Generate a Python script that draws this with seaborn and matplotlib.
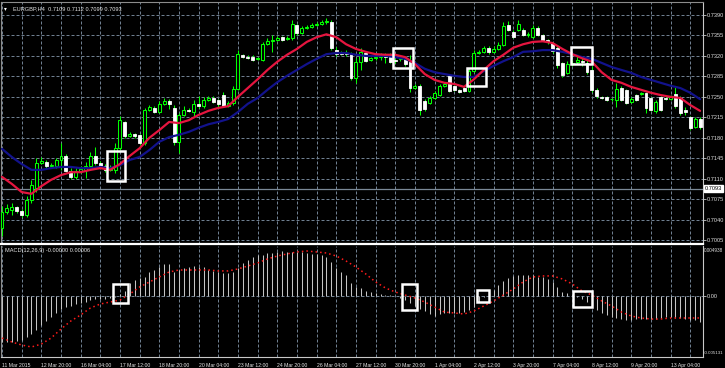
import numpy as np
import seaborn as sns
import matplotlib.pyplot as plt
from matplotlib.patches import Rectangle
from matplotlib.transforms import blended_transform_factory

# EURGBP H4 candles, bar 0 = 11 Mar 2015
open_ = [0.7025, 0.7053, 0.7056, 0.7061, 0.7055, 0.7048, 0.7073, 0.7094, 0.7137, 0.7138,
         0.7132, 0.7132, 0.7142, 0.7149, 0.7123, 0.7113, 0.7123, 0.7125, 0.7132, 0.7149,
         0.7137, 0.7132, 0.7125, 0.7125, 0.7162, 0.7207, 0.7183, 0.7186, 0.7185, 0.7171,
         0.7227, 0.7231, 0.7224, 0.7238, 0.7243, 0.7231, 0.7173, 0.7219, 0.7227, 0.7224,
         0.7238, 0.7234, 0.7245, 0.7248, 0.7245, 0.7253, 0.7234, 0.7239, 0.7263, 0.7322,
         0.7318, 0.7318, 0.7315, 0.7313, 0.7340, 0.7345, 0.7347, 0.7352, 0.7349, 0.7351,
         0.7373, 0.7359, 0.7368, 0.7369, 0.7373, 0.7375, 0.7378, 0.7378, 0.7330, 0.7325,
         0.7325, 0.7323, 0.7282, 0.7310, 0.7325, 0.7313, 0.7316, 0.7318, 0.7320, 0.7322,
         0.7313, 0.7315, 0.7316, 0.7310, 0.7265, 0.7269, 0.7243, 0.7239, 0.7248, 0.7253,
         0.7269, 0.7286, 0.7269, 0.7262, 0.7265, 0.7260, 0.7294, 0.7325, 0.7327, 0.7334,
         0.7327, 0.7332, 0.7339, 0.7373, 0.7361, 0.7364, 0.7364, 0.7356, 0.7352, 0.7368,
         0.7356, 0.7347, 0.7342, 0.7334, 0.7308, 0.7291, 0.7306, 0.7310, 0.7311, 0.7308,
         0.7296, 0.7262, 0.7250, 0.7250, 0.7246, 0.7245, 0.7265, 0.7262, 0.7241, 0.7253,
         0.7255, 0.7257, 0.7248, 0.7226, 0.7250, 0.7248, 0.7246, 0.7255, 0.7248, 0.7227,
         0.7215, 0.7198, 0.7212]
high = [0.7063, 0.7066, 0.7068, 0.7063, 0.7058, 0.7080, 0.7108, 0.7145, 0.7147, 0.7142,
        0.7137, 0.7145, 0.7171, 0.7152, 0.7128, 0.7128, 0.7132, 0.7138, 0.7156, 0.7164,
        0.7140, 0.7135, 0.7133, 0.7171, 0.7217, 0.7209, 0.7190, 0.7188, 0.7186, 0.7231,
        0.7236, 0.7234, 0.7243, 0.7248, 0.7246, 0.7236, 0.7222, 0.7234, 0.7231, 0.7245,
        0.7251, 0.7250, 0.7251, 0.7251, 0.7246, 0.7258, 0.7243, 0.7269, 0.7330, 0.7323,
        0.7322, 0.7322, 0.7318, 0.7344, 0.7351, 0.7356, 0.7354, 0.7354, 0.7354, 0.7381,
        0.7375, 0.7371, 0.7373, 0.7376, 0.7378, 0.7381, 0.7385, 0.7381, 0.7335, 0.7328,
        0.7330, 0.7327, 0.7316, 0.7334, 0.7327, 0.7318, 0.7322, 0.7325, 0.7325, 0.7325,
        0.7316, 0.7320, 0.7318, 0.7322, 0.7272, 0.7272, 0.7246, 0.7251, 0.7260, 0.7272,
        0.7275, 0.7289, 0.7270, 0.7263, 0.7267, 0.7299, 0.7330, 0.7330, 0.7337, 0.7337,
        0.7337, 0.7344, 0.7378, 0.7380, 0.7364, 0.7381, 0.7368, 0.7361, 0.7373, 0.7371,
        0.7357, 0.7349, 0.7344, 0.7337, 0.7310, 0.7311, 0.7313, 0.7322, 0.7316, 0.7313,
        0.7303, 0.7265, 0.7251, 0.7251, 0.7248, 0.7274, 0.7269, 0.7263, 0.7250, 0.7255,
        0.7258, 0.7258, 0.7250, 0.7245, 0.7251, 0.7251, 0.7253, 0.7267, 0.7251, 0.7233,
        0.7217, 0.7215, 0.7215]
low = [0.7012, 0.7049, 0.7048, 0.7051, 0.7044, 0.7044, 0.7068, 0.7087, 0.7135, 0.7128,
       0.7128, 0.7128, 0.7125, 0.7121, 0.7109, 0.7109, 0.7120, 0.7111, 0.7125, 0.7133,
       0.7128, 0.7121, 0.7123, 0.7120, 0.7159, 0.7180, 0.7181, 0.7180, 0.7168, 0.7168,
       0.7226, 0.7222, 0.7222, 0.7236, 0.7229, 0.7168, 0.7154, 0.7217, 0.7224, 0.7217,
       0.7231, 0.7231, 0.7243, 0.7239, 0.7231, 0.7233, 0.7233, 0.7236, 0.7262, 0.7316,
       0.7315, 0.7311, 0.7313, 0.7311, 0.7339, 0.7327, 0.7345, 0.7345, 0.7347, 0.7347,
       0.7356, 0.7357, 0.7366, 0.7368, 0.7371, 0.7373, 0.7375, 0.7330, 0.7320, 0.7322,
       0.7320, 0.7279, 0.7274, 0.7296, 0.7310, 0.7311, 0.7313, 0.7313, 0.7308, 0.7308,
       0.7308, 0.7311, 0.7303, 0.7258, 0.7263, 0.7219, 0.7226, 0.7238, 0.7246, 0.7251,
       0.7267, 0.7258, 0.7260, 0.7257, 0.7258, 0.7258, 0.7292, 0.7323, 0.7325, 0.7323,
       0.7325, 0.7330, 0.7337, 0.7363, 0.7351, 0.7363, 0.7354, 0.7352, 0.7351, 0.7354,
       0.7345, 0.7340, 0.7325, 0.7299, 0.7284, 0.7289, 0.7303, 0.7306, 0.7303, 0.7289,
       0.7258, 0.7248, 0.7246, 0.7243, 0.7243, 0.7233, 0.7243, 0.7238, 0.7239, 0.7243,
       0.7253, 0.7222, 0.7226, 0.7222, 0.7226, 0.7245, 0.7245, 0.7231, 0.7219, 0.7219,
       0.7193, 0.7197, 0.7195]
close = [0.7053, 0.7060, 0.7061, 0.7055, 0.7048, 0.7073, 0.7099, 0.7137, 0.7140, 0.7132,
         0.7133, 0.7142, 0.7149, 0.7123, 0.7113, 0.7123, 0.7126, 0.7132, 0.7149, 0.7137,
         0.7132, 0.7125, 0.7130, 0.7162, 0.7210, 0.7183, 0.7186, 0.7183, 0.7171, 0.7227,
         0.7233, 0.7224, 0.7238, 0.7243, 0.7238, 0.7173, 0.7219, 0.7227, 0.7226, 0.7238,
         0.7234, 0.7245, 0.7248, 0.7241, 0.7238, 0.7234, 0.7239, 0.7263, 0.7323, 0.7318,
         0.7316, 0.7313, 0.7316, 0.7340, 0.7345, 0.7347, 0.7351, 0.7347, 0.7351, 0.7375,
         0.7359, 0.7368, 0.7369, 0.7373, 0.7375, 0.7378, 0.7380, 0.7334, 0.7323, 0.7323,
         0.7323, 0.7282, 0.7310, 0.7327, 0.7311, 0.7316, 0.7318, 0.7322, 0.7318, 0.7310,
         0.7311, 0.7316, 0.7306, 0.7265, 0.7269, 0.7227, 0.7229, 0.7248, 0.7257, 0.7269,
         0.7272, 0.7260, 0.7262, 0.7258, 0.7260, 0.7294, 0.7325, 0.7327, 0.7334, 0.7327,
         0.7332, 0.7339, 0.7371, 0.7364, 0.7352, 0.7375, 0.7356, 0.7357, 0.7368, 0.7356,
         0.7347, 0.7344, 0.7328, 0.7304, 0.7287, 0.7306, 0.7308, 0.7313, 0.7310, 0.7292,
         0.7262, 0.7251, 0.7248, 0.7245, 0.7246, 0.7263, 0.7245, 0.7239, 0.7246, 0.7245,
         0.7257, 0.7231, 0.7227, 0.7241, 0.7227, 0.7246, 0.7250, 0.7234, 0.7222, 0.7224,
         0.7197, 0.7212, 0.7198]

# moving averages and MACD signal, read every second bar
ma_bars = list(range(0, 143, 2))
ma_fast = [0.7113, 0.7101, 0.7087, 0.7084, 0.7097, 0.7108, 0.7116, 0.7121, 0.7121, 0.7125,
           0.7128, 0.7125, 0.7135, 0.7149, 0.7162, 0.7180, 0.7193, 0.7207, 0.7205, 0.7210,
           0.7219, 0.7226, 0.7231, 0.7234, 0.7250, 0.7265, 0.7280, 0.7296, 0.7310, 0.7322,
           0.7332, 0.7344, 0.7352, 0.7357, 0.7352, 0.7340, 0.7332, 0.7327, 0.7323, 0.7322,
           0.7322, 0.7318, 0.7306, 0.7289, 0.7279, 0.7274, 0.7272, 0.7267, 0.7280, 0.7296,
           0.7311, 0.7322, 0.7334, 0.7340, 0.7344, 0.7345, 0.7342, 0.7332, 0.7323, 0.7316,
           0.7310, 0.7292, 0.7279, 0.7274, 0.7267, 0.7262, 0.7257, 0.7253, 0.7250, 0.7248,
           0.7236, 0.7226]
ma_slow = [0.7161, 0.7147, 0.7135, 0.7125, 0.7125, 0.7128, 0.7130, 0.7130, 0.7128, 0.7128,
           0.7130, 0.7128, 0.7133, 0.7142, 0.7147, 0.7159, 0.7173, 0.7181, 0.7185, 0.7190,
           0.7197, 0.7203, 0.7207, 0.7212, 0.7224, 0.7238, 0.7248, 0.7262, 0.7275, 0.7286,
           0.7296, 0.7306, 0.7315, 0.7323, 0.7325, 0.7325, 0.7322, 0.7320, 0.7320, 0.7320,
           0.7318, 0.7315, 0.7308, 0.7298, 0.7292, 0.7289, 0.7286, 0.7284, 0.7284, 0.7294,
           0.7303, 0.7311, 0.7318, 0.7327, 0.7328, 0.7330, 0.7330, 0.7327, 0.7323, 0.7318,
           0.7315, 0.7308, 0.7301, 0.7296, 0.7291, 0.7284, 0.7279, 0.7274, 0.7269, 0.7265,
           0.7257, 0.7246]
macd_signal = [-0.00398, -0.00436, -0.00465, -0.00484, -0.00456, -0.00398, -0.00312, -0.00235,
               -0.00177, -0.00110, -0.00072, -0.00053, -0.00034, 0.00024, 0.00091, 0.00139,
               0.00187, 0.00235, 0.00254, 0.00254, 0.00254, 0.00254, 0.00245, 0.00245,
               0.00264, 0.00292, 0.00321, 0.00360, 0.00388, 0.00408, 0.00427, 0.00436,
               0.00427, 0.00417, 0.00388, 0.00340, 0.00283, 0.00216, 0.00139, 0.00082,
               0.00043, 0.00014, -0.00014, -0.00053, -0.00101, -0.00149, -0.00158, -0.00168,
               -0.00139, -0.00091, -0.00043, 0.00014, 0.00072, 0.00139, 0.00187, 0.00197,
               0.00197, 0.00168, 0.00120, 0.00053, 0.00014, -0.00043, -0.00091, -0.00149,
               -0.00187, -0.00206, -0.00216, -0.00216, -0.00206, -0.00206, -0.00206, -0.00206]

macd_hist = [-0.00436, -0.00436, -0.00436, -0.00427, -0.00417, -0.00388, -0.00360, -0.00321,
             -0.00273, -0.00235, -0.00197, -0.00158, -0.00120, -0.00101, -0.00091, -0.00072,
             -0.00062, -0.00053, -0.00034, -0.00024, -0.00024, -0.00024, -0.00014, -0.00005,
             0.00024, 0.00053, 0.00129, 0.00158, 0.00177, 0.00187, 0.00235, 0.00254,
             0.00283, 0.00312, 0.00312, 0.00235, 0.00254, 0.00273, 0.00283, 0.00292,
             0.00283, 0.00283, 0.00254, 0.00245, 0.00235, 0.00225, 0.00225, 0.00235,
             0.00273, 0.00321, 0.00350, 0.00379, 0.00398, 0.00398, 0.00417, 0.00417,
             0.00427, 0.00436, 0.00427, 0.00427, 0.00427, 0.00427, 0.00417, 0.00408,
             0.00408, 0.00398, 0.00379, 0.00331, 0.00273, 0.00235, 0.00206, 0.00129,
             0.00091, 0.00082, 0.00053, 0.00043, 0.00034, 0.00024, 0.00014, 0.00014,
             0.00005, -0.00014, -0.00034, -0.00062, -0.00091, -0.00120, -0.00139, -0.00168,
             -0.00187, -0.00168, -0.00158, -0.00158, -0.00158, -0.00158, -0.00149, -0.00129,
             -0.00101, -0.00053, -0.00005, 0.00034, 0.00062, 0.00110, 0.00149, 0.00177,
             0.00197, 0.00206, 0.00206, 0.00206, 0.00206, 0.00187, 0.00187, 0.00168,
             0.00139, 0.00091, 0.00043, 0.00034, 0.00014, -0.00005, -0.00024, -0.00053,
             -0.00091, -0.00129, -0.00158, -0.00177, -0.00197, -0.00206, -0.00216, -0.00225,
             -0.00225, -0.00216, -0.00216, -0.00216, -0.00216, -0.00216, -0.00206, -0.00197,
             -0.00197, -0.00206, -0.00206, -0.00216, -0.00225, -0.00225, -0.00245]

time_labels = ["11 Mar 2015", "12 Mar 20:00", "16 Mar 04:00", "17 Mar 12:00", "18 Mar 20:00",
               "20 Mar 04:00", "23 Mar 12:00", "24 Mar 20:00", "26 Mar 04:00", "27 Mar 12:00",
               "30 Mar 20:00", "1 Apr 04:00", "2 Apr 12:00", "3 Apr 20:00", "7 Apr 04:00",
               "8 Apr 12:00", "9 Apr 20:00", "13 Apr 04:00"]
price_ticks = [0.7390, 0.7355, 0.7320, 0.7285, 0.7250, 0.7215, 0.7180, 0.7145,
               0.7110, 0.7075, 0.7040, 0.7005]
price_line = 0.7093

# highlighted crossovers: (first bar, last bar, low, high)
price_boxes = [(21.4, 25.0, 0.7106, 0.7157), (79.6, 83.6, 0.7299, 0.7334),
               (94.6, 98.5, 0.7269, 0.7299), (115.8, 120.0, 0.7306, 0.7335)]
macd_boxes = [(22.6, 25.6, -0.00062, 0.00120), (81.4, 84.4, -0.00129, 0.00120),
              (96.6, 99.1, -0.00053, 0.00062), (116.2, 120.0, -0.00101, 0.00053)]

sns.set_theme(style="dark", rc={
    "figure.facecolor": "black",
    "axes.facecolor": "black",
    "savefig.facecolor": "black",
    "text.color": "#e6e6e6",
})
plt.rcParams["font.family"] = ["Liberation Sans", "DejaVu Sans"]

W, H = 725, 368
GRID = dict(color="#6f7f90", linestyle=(0, (3, 2)), linewidth=0.72)
LIME = "#00ff00"
FS = 4.1  # MT4 axis text is tiny in this screenshot


def px_box(x0, y0, x1, y1):
    return [x0 / W, 1 - y1 / H, (x1 - x0) / W, (y1 - y0) / H]


fig = plt.figure(figsize=(W / 100, H / 100), dpi=100)
ax = fig.add_axes(px_box(1, 2, 703, 244))
ax2 = fig.add_axes(px_box(1, 246, 703, 357))

bars = np.arange(len(close))
o, h, l, c = (np.asarray(a) for a in (open_, high, low, close))
up = c >= o
body_lo = np.minimum(o, c)
body_h = np.abs(c - o)

# candles
ax.vlines(bars, l, h, color=LIME, linewidth=0.75, zorder=2)
ax.bar(bars[up], body_h[up], bottom=body_lo[up], width=0.6, color="black",
       edgecolor=LIME, linewidth=0.75, zorder=3)
ax.bar(bars[~up], body_h[~up], bottom=body_lo[~up], width=0.6, color="white",
       edgecolor="white", linewidth=0.6, zorder=3)

# moving averages
sns.lineplot(x=ma_bars, y=ma_slow, ax=ax, color="#12128c", linewidth=1.6, zorder=4)
sns.lineplot(x=ma_bars, y=ma_fast, ax=ax, color="#e5153f", linewidth=1.6, zorder=5)

ax.axhline(price_line, color="#7a8896", linewidth=0.9, zorder=1)

# MACD window
ax2.vlines(bars, 0, macd_hist, color="#c4c4c4", linewidth=0.75, zorder=2)
sns.lineplot(x=ma_bars, y=macd_signal, ax=ax2, color="#ff1a1a", linewidth=1.1,
             linestyle=(0, (1, 2)), zorder=3)

for x0, x1, y0, y1 in price_boxes:
    ax.add_patch(Rectangle((x0, y0), x1 - x0, y1 - y0, fill=False, edgecolor="white",
                           linewidth=1.8, zorder=6))
for x0, x1, y0, y1 in macd_boxes:
    ax2.add_patch(Rectangle((x0, y0), x1 - x0, y1 - y0, fill=False, edgecolor="white",
                            linewidth=1.8, zorder=6))

# axes, ticks and grid
for a in (ax, ax2):
    a.set_xlim(-0.2, 142.6)
    a.set_xlabel("")
    a.set_ylabel("")
    a.set_xticks(range(0, 143, 8))
    a.set_xticks(range(4, 143, 8), minor=True)
    a.set_axisbelow(True)
    a.grid(True, which="both", axis="x", **GRID)
    a.grid(True, which="major", axis="y", **GRID)
    a.yaxis.tick_right()
    a.tick_params(axis="y", length=2, width=0.6, pad=0.8, labelsize=FS,
                  color="#c8c8c8", labelcolor="#e0e0e0")
    a.spines["left"].set_color("#8c8c8c")
    a.spines["right"].set_color("#c8c8c8")
    for s in a.spines.values():
        s.set_linewidth(0.8)

ax.set_ylim(0.69981, 0.74123)
ax.set_yticks(price_ticks)
ax.set_yticklabels([f"{v:.4f}" for v in price_ticks])
ax.tick_params(axis="x", which="both", length=0, labelbottom=False)
ax.spines["top"].set_color("#8c8c8c")
ax.spines["bottom"].set_color("white")
ax.spines["bottom"].set_linewidth(1.6)

ax2.set_ylim(-0.00580, 0.00484)
ax2.set_yticks([0])
ax2.set_yticklabels(["0.00"])
ax2.set_xticklabels(time_labels)
ax2.tick_params(axis="x", which="major", length=3, width=0.6, pad=1.2, labelsize=3.7,
                color="#c8c8c8", labelcolor="#e6e6e6")
ax2.tick_params(axis="x", which="minor", length=0)
for lbl in ax2.get_xticklabels():
    lbl.set_ha("left")
ax2.spines["top"].set_visible(False)
ax2.spines["bottom"].set_color("#c8c8c8")

right = blended_transform_factory(ax.transAxes, ax.transData)
ax.text(1.003, price_line, f"{price_line:.4f}", transform=right, color="black", fontsize=FS,
        va="center", ha="left", zorder=7,
        bbox=dict(boxstyle="square,pad=0.15", facecolor="white", edgecolor="white"))
# MACD scale extremes, squeezed so they fit inside the right margin
ax2.text(1.0015, 0.985, "0.004938", transform=ax2.transAxes, color="#e0e0e0", fontsize=3.3,
         va="top", ha="left")
ax2.text(1.0015, 0.035, "-0.005131", transform=ax2.transAxes, color="#e0e0e0", fontsize=3.2,
         va="center", ha="left")

ax.text(0.004, 0.972, "\u25be", transform=ax.transAxes, color="white", fontsize=FS,
        va="center", ha="left")
ax.text(0.017, 0.972, "EURGBP,H4  0.7109 0.7112 0.7099 0.7093", transform=ax.transAxes,
        color="#e6e6e6", fontsize=FS, va="center", ha="left")
ax2.text(0.005, 0.955, "MACD(12,26,9) -0.00000 0.00006", transform=ax2.transAxes,
         color="#e6e6e6", fontsize=FS, va="center", ha="left")

fig.savefig("out.png", dpi=100, facecolor="black")
